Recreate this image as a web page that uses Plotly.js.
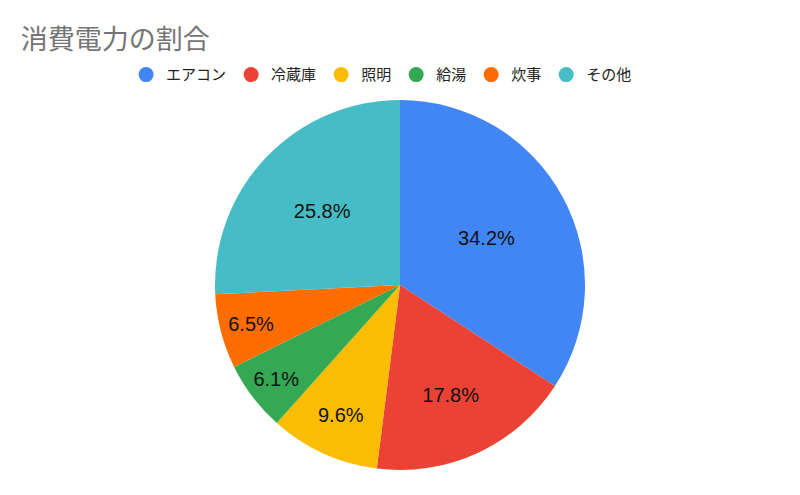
<!DOCTYPE html>
<html>
<head>
<meta charset="utf-8">
<script src="https://cdn.plot.ly/plotly-3.0.1.min.js"></script>
<style>
  html, body { margin: 0; padding: 0; background: #fff; }
  #chart { width: 800px; height: 495px; }
</style>
</head>
<body>
<div id="chart"></div>
<script>
// data
const labels = ["エアコン", "冷蔵庫", "照明", "給湯", "炊事", "その他"];
const shares = [34.2, 17.8, 9.6, 6.1, 6.5, 25.8];
const colors = ["#4285F4", "#EA4335", "#FBBC04", "#34A853", "#FF6D01", "#46BDC6"];

const font = "Roboto, 'Noto Sans CJK JP', sans-serif";
const numFont = "'Liberation Sans', Arial, sans-serif";

let pie = {
    type: "pie",
    labels: labels,
    values: shares,
    sort: false,
    direction: "clockwise",
    rotation: 0,
    marker: { colors: colors, line: { width: 0 } },
    texttemplate: "%{percent:.1%}",
    textposition: "inside",
    insidetextorientation: "horizontal",
    insidetextfont: { family: numFont, size: 20, color: "#111" },
    hoverinfo: "label+percent",
    showlegend: false,
    domain: { x: [0, 1], y: [0, 1] }
};

// legend entries drawn as circles with dummy scatter traces
let legendTraces = labels.map((name, i) => ({
    type: "scatter",
    mode: "markers",
    x: [null],
    y: [null],
    name: name,
    marker: { color: colors[i], size: 15, symbol: "circle" },
    showlegend: true,
    hoverinfo: "skip"
}));

let layout = {
    width: 800,
    height: 495,
    margin: { l: 0, r: 0, t: 100, b: 25 },
    paper_bgcolor: "#fff",
    plot_bgcolor: "#fff",
    font: { family: font, color: "#222" },
    title: {
        text: "消費電力の割合",
        xref: "container",
        yref: "container",
        x: 0.026,
        xanchor: "left",
        y: 0.921,
        yanchor: "middle",
        font: { family: font, size: 27, color: "#757575" }
    },
    xaxis: { visible: false },
    yaxis: { visible: false },
    legend: {
        orientation: "h",
        x: 0.477,
        xanchor: "center",
        y: 1.068,
        yanchor: "middle",
        font: { family: font, size: 15, color: "#222" },
        itemwidth: 30
    }
};

Plotly.newPlot("chart", [pie].concat(legendTraces), layout, { displayModeBar: false });
</script>
</body>
</html>
